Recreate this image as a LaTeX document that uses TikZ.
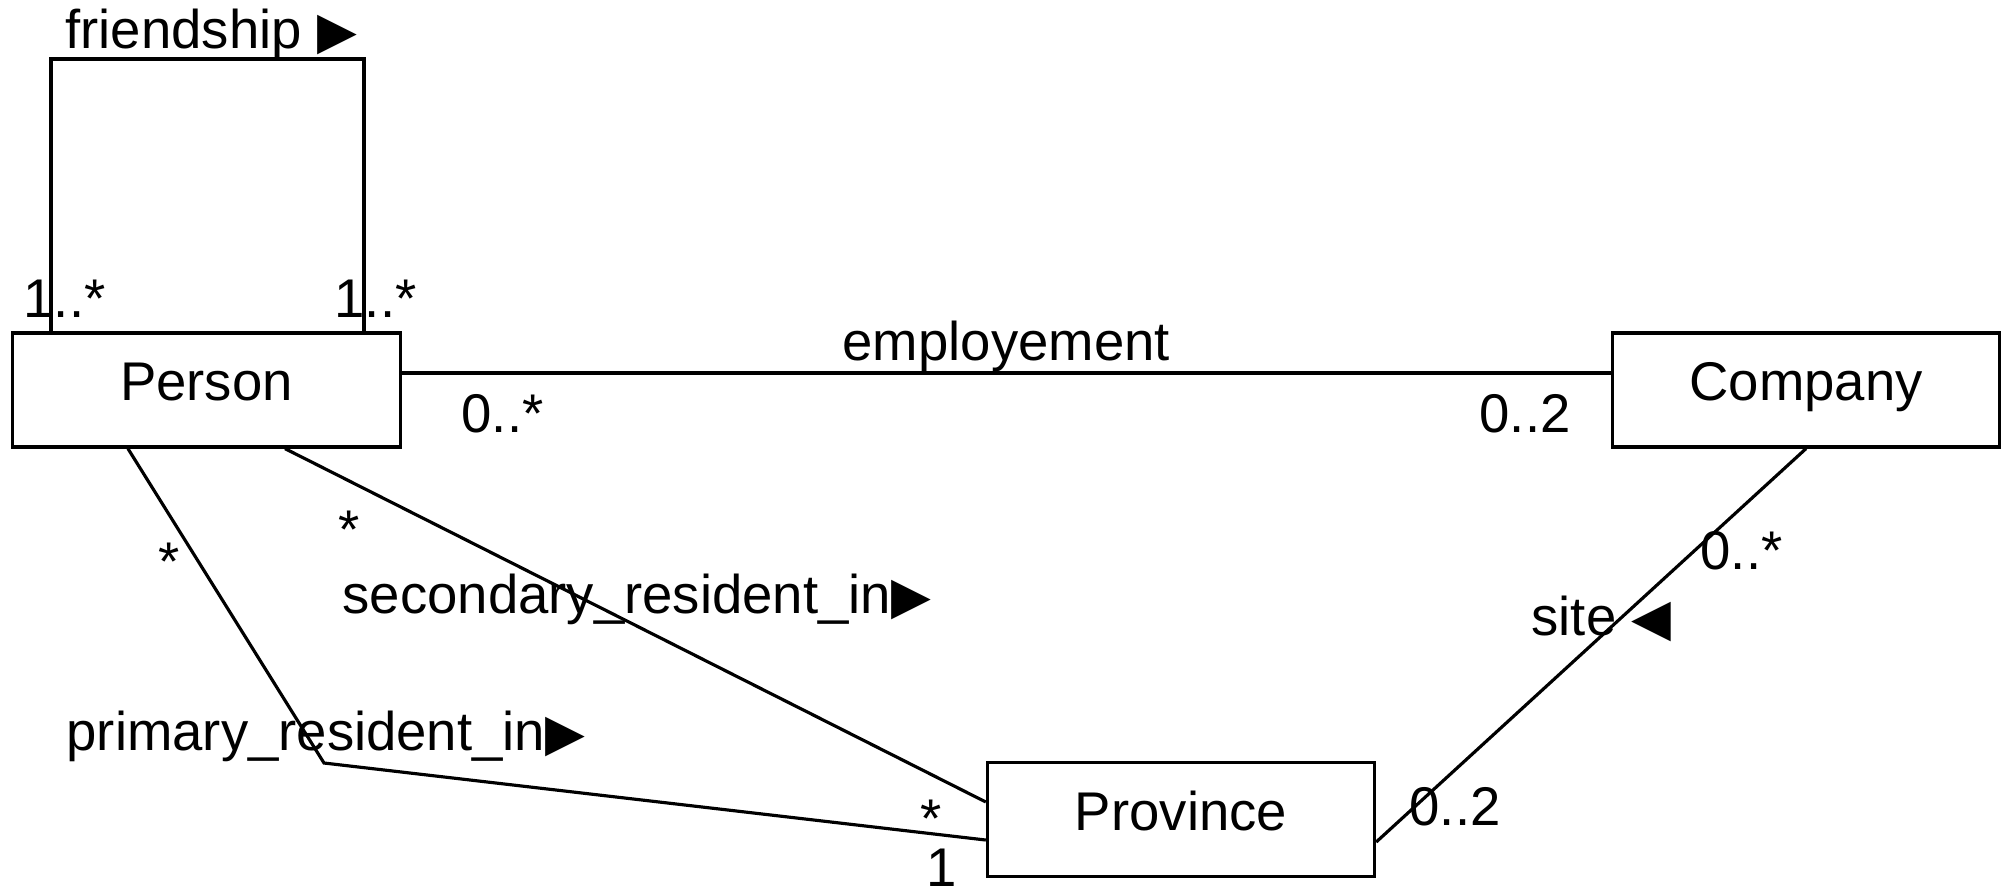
\documentclass[tikz,border=0pt]{standalone}
\usepackage{fontspec}
\setmainfont{Liberation Sans}
\newfontfamily\symfont[Scale=0.95]{DejaVu Sans}
\newcommand{\umlsize}{\fontsize{15.5}{18}\selectfont}

\begin{document}
\begin{tikzpicture}[x = 0.01cm, y = -0.01cm, line width = 0.9pt,
    every node/.style = {font = \umlsize},
    cls/.style = {draw, rectangle, minimum width = 3.87cm, minimum height = 1.14cm,
      text height = 0.39cm, text depth = 0.18cm},
    lbl/.style = {inner sep = 0, anchor = base west}]
    \useasboundingbox (0, 0) rectangle (2008, 890);

    \node[cls] (person) at (206.5, 390) {Person};
    \node[cls] (company) at (1806, 390) {Company};
    \node[cls] (province) at (1181, 819.5) {Province};

    % friendship loop
    \coordinate (fl) at (51, 59);
    \coordinate (fr) at (364, 59);
    \draw (person.north -| fl) -- (fl) -- (fr) -- (person.north -| fr);
    \node[lbl] (friendship) at (64, 48) {friendship {\symfont ▶}};
    \node[lbl] (fmulta) at (22, 317) {1..*};
    \node[lbl] (fmultb) at (333, 317) {1..*};

    % employement
    \path ([yshift = 0.17cm]person.east) edge node[above, inner sep = 0] (employement) {employement}
      ([yshift = 0.17cm]company.west);
    \node[lbl] (emulta) at (460, 432) {0..*};
    \node[lbl] (emultb) at (1478, 432) {0..2};

    % residence
    \coordinate (bend) at (324, 763);
    \draw ([xshift = -0.785cm]person.south) -- (bend) -- ([yshift = -0.205cm]province.west);
    \draw ([xshift = 0.785cm]person.south) -- ([yshift = 0.175cm]province.west);
    \node[lbl] (primary) at (65, 750) {primary\_resident\_in{\symfont ▶}};
    \node[lbl] (secondary) at (341, 613) {secondary\_resident\_in{\symfont ▶}};
    \node[lbl] (pmulta) at (157, 580) {*};
    \node[lbl] (smulta) at (337, 548) {*};
    \node[lbl] (smultb) at (919, 837) {*};
    \node[lbl] (pmultb) at (925, 886) {1};

    % site
    \draw (company.south) -- ([yshift = -0.225cm]province.east);
    \node[lbl] (site) at (1530, 635) {site {\symfont ◀}};
    \node[lbl] (cmulta) at (1699, 569) {0..*};
    \node[lbl] (cmultb) at (1408, 825) {0..2};
  \end{tikzpicture}
\end{document}
